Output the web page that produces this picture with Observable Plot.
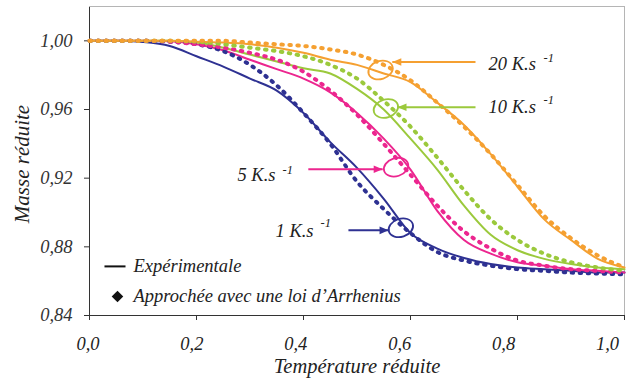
<!DOCTYPE html>
<html>
<head>
<meta charset="utf-8">
<script src="https://cdn.jsdelivr.net/npm/d3@7"></script>
<script src="https://cdn.jsdelivr.net/npm/@observablehq/plot@0.6"></script>
<style>
  html, body { margin: 0; padding: 0; background: #fff; }
</style>
</head>
<body>
<div id="chart"></div>
<script>
// ---- Data ----
const temperature = [0, 0.05, 0.10, 0.15, 0.20, 0.25, 0.30, 0.35, 0.40, 0.45, 0.50,
                     0.55, 0.60, 0.65, 0.70, 0.75, 0.80, 0.85, 0.90, 0.95, 1.00];

// Expérimentale (solid lines)
const exp1  = [1.000, 1.000, 0.9993, 0.997, 0.991, 0.985, 0.978, 0.971, 0.958, 0.941, 0.926,
               0.908, 0.888, 0.879, 0.8735, 0.870, 0.868, 0.867, 0.866, 0.865, 0.865];
const exp5  = [1.000, 1.000, 1.000, 0.9997, 0.998, 0.9945, 0.989, 0.9835, 0.978, 0.970, 0.958,
               0.943, 0.925, 0.901, 0.884, 0.876, 0.871, 0.869, 0.867, 0.866, 0.865];
const exp10 = [1.000, 1.000, 1.000, 1.000, 0.999, 0.996, 0.992, 0.988, 0.984, 0.981, 0.972,
               0.960, 0.943, 0.925, 0.904, 0.887, 0.878, 0.873, 0.870, 0.868, 0.867];
const exp20 = [1.000, 1.000, 1.000, 1.000, 0.9995, 0.999, 0.998, 0.996, 0.993, 0.989, 0.986,
               0.981, 0.976, 0.964, 0.951, 0.934, 0.915, 0.896, 0.884, 0.873, 0.868];

// Approchée avec une loi d'Arrhenius (dotted)
const arr1  = [1.000, 1.000, 1.000, 0.9995, 0.998, 0.994, 0.986, 0.974, 0.958, 0.940, 0.918,
               0.902, 0.888, 0.877, 0.872, 0.869, 0.867, 0.866, 0.865, 0.8645, 0.864];
const arr5  = [1.000, 1.000, 1.000, 0.9995, 0.998, 0.996, 0.993, 0.989, 0.982, 0.971, 0.957,
               0.940, 0.922, 0.904, 0.889, 0.879, 0.872, 0.869, 0.867, 0.866, 0.865];
const arr10 = [1.000, 1.000, 1.000, 1.000, 0.9995, 0.998, 0.996, 0.994, 0.991, 0.986, 0.978,
               0.965, 0.950, 0.932, 0.913, 0.896, 0.884, 0.876, 0.871, 0.868, 0.866];
const arr20 = [1.000, 1.000, 1.000, 1.000, 1.000, 1.000, 0.999, 0.998, 0.997, 0.995, 0.992,
               0.986, 0.977, 0.964, 0.950, 0.934, 0.916, 0.898, 0.885, 0.875, 0.868];

const xTicks = [0, 0.2, 0.4, 0.6, 0.8, 1.0];
const yTicks = [0.84, 0.88, 0.92, 0.96, 1.00];

// Annotations (heating-rate labels)
const rateText   = ["20 K.s", "10 K.s", "5 K.s", "1 K.s"];
const rateColor  = ["#f5a031", "#9bc93c", "#ec268f", "#2e3192"];
const labelX     = [0.746, 0.746, 0.2766, 0.3477];
const labelY     = [0.9866, 0.9615, 0.9217, 0.8890];
const supX       = [0.8486, 0.8486, 0.3607, 0.4320];
const supY       = [0.9900, 0.9655, 0.9247, 0.8939];
const arrowFromX = [0.7215, 0.7215, 0.409, 0.484];
const arrowToX   = [0.566, 0.5757, 0.548, 0.559];
const arrowY     = [0.9877, 0.9613, 0.9252, 0.8896];
const ringX      = [0.544, 0.554, 0.573, 0.582];
const ringY      = [0.9830, 0.9606, 0.9264, 0.8911];

// ---- Build tables ----
const series = [
  {rate: "1",  color: "#2e3192", exp: exp1,  arr: arr1},
  {rate: "5",  color: "#ec268f", exp: exp5,  arr: arr5},
  {rate: "10", color: "#9bc93c", exp: exp10, arr: arr10},
  {rate: "20", color: "#f5a031", exp: exp20, arr: arr20}
];
const rows = (vals) => temperature.map((t, i) => ({x: t, y: vals[i]}));
const ann = rateText.map((t, i) => ({
  text: t, color: rateColor[i], lx: labelX[i], ly: labelY[i], sx: supX[i], sy: supY[i],
  ax1: arrowFromX[i], ax2: arrowToX[i], ay: arrowY[i], ex: ringX[i], ey: ringY[i],
  dir: arrowToX[i] < arrowFromX[i] ? "left" : "right"
}));

// custom symbols
function ellipseSymbol(rx, ry, angleDeg) {
  const a = angleDeg * Math.PI / 180, c = Math.cos(a), s = Math.sin(a), k = 0.5523;
  const p = (x, y) => [x * c - y * s, x * s + y * c];
  return {
    draw(ctx) {
      ctx.moveTo(...p(rx, 0));
      ctx.bezierCurveTo(...p(rx, k * ry), ...p(k * rx, ry), ...p(0, ry));
      ctx.bezierCurveTo(...p(-k * rx, ry), ...p(-rx, k * ry), ...p(-rx, 0));
      ctx.bezierCurveTo(...p(-rx, -k * ry), ...p(-k * rx, -ry), ...p(0, -ry));
      ctx.bezierCurveTo(...p(k * rx, -ry), ...p(rx, -k * ry), ...p(rx, 0));
      ctx.closePath();
    }
  };
}
function headSymbol(sign) {
  return {
    draw(ctx) {
      ctx.moveTo(0, 0);
      ctx.lineTo(-sign * 9, -3.8);
      ctx.lineTo(-sign * 9, 3.8);
      ctx.closePath();
    }
  };
}

const FONT = "Liberation Serif";
const comma = (digits) => (d) => d.toFixed(digits).replace(".", ",");
const txt = {fill: "#222", fontFamily: FONT, fontStyle: "italic", fontSize: 18.5};

const marks = [];
// frame borders (top / right light gray)
marks.push(Plot.ruleY([1.02], {stroke: "#b5b5b5", strokeWidth: 1}));
marks.push(Plot.ruleX([1.0], {stroke: "#b5b5b5", strokeWidth: 1}));

for (const s of series) {
  marks.push(Plot.line(rows(s.exp), {x: "x", y: "y", stroke: s.color, strokeWidth: 2, curve: "monotone-x"}));
}
for (const s of series) {
  marks.push(Plot.line(rows(s.arr), {x: "x", y: "y", stroke: s.color, strokeWidth: 4,
    strokeDasharray: "1.5,6.5", strokeLinecap: "round", curve: "monotone-x"}));
}

// annotations
marks.push(Plot.link(ann, {x1: "ax1", x2: "ax2", y1: "ay", y2: "ay", stroke: d => d.color, strokeWidth: 2}));
marks.push(Plot.dot(ann.filter(d => d.dir === "left"), {x: "ax2", y: "ay", fill: d => d.color, stroke: "none", symbol: headSymbol(-1)}));
marks.push(Plot.dot(ann.filter(d => d.dir === "right"), {x: "ax2", y: "ay", fill: d => d.color, stroke: "none", symbol: headSymbol(1)}));
marks.push(Plot.dot(ann, {x: "ex", y: "ey", stroke: d => d.color, fill: "none", strokeWidth: 1.8, symbol: ellipseSymbol(12.5, 9, -18)}));
marks.push(Plot.text(ann, {x: "lx", y: "ly", text: "text", textAnchor: "start", ...txt}));
marks.push(Plot.text(ann, {x: "sx", y: "sy", text: () => "-1", textAnchor: "start", ...txt, fontSize: 12.5}));

// legend (inside the plot)
const legendLine = [{x1: 0.028, x2: 0.0673, y: 0.8686}];
marks.push(Plot.link(legendLine, {x1: "x1", x2: "x2", y1: "y", y2: "y", stroke: "#111", strokeWidth: 2}));
marks.push(Plot.dot([{x: 0.0523, y: 0.8511}], {x: "x", y: "y", symbol: "diamond2", r: 5.2, fill: "#111", stroke: "none"}));
marks.push(Plot.text([{x: 0.0822, y: 0.8686, t: "Expérimentale"}, {x: 0.0822, y: 0.8511, t: "Approchée avec une loi d\u2019Arrhenius"}],
  {x: "x", y: "y", text: "t", textAnchor: "start", ...txt}));

// x tick labels (slightly drifting left, as in the reference)
for (const t of xTicks) {
  marks.push(Plot.text([t], {x: d => d, frameAnchor: "bottom", lineAnchor: "middle", dy: 29,
    dx: -1.5 - 15.5 * t, text: comma(1), ...txt}));
}

// axis titles
marks.push(Plot.text(["Masse réduite"], {frameAnchor: "left", textAnchor: "middle", lineAnchor: "middle",
  dx: -67, dy: 3, rotate: -90, text: d => d, ...txt, fontSize: 21}));
marks.push(Plot.text(["Température réduite"], {frameAnchor: "bottom", textAnchor: "middle", lineAnchor: "middle",
  dy: 51, text: d => d, ...txt, fontSize: 20.5}));

const chart = Plot.plot({
  width: 630,
  height: 379,
  marginTop: 6,
  marginRight: 6,
  marginBottom: 64,
  marginLeft: 89,
  style: {fontFamily: FONT, fontStyle: "italic", fontSize: "18.5px", color: "#333", background: "#fff"},
  x: {domain: [0, 1], ticks: xTicks, tickFormat: () => "", tickSize: 5, label: null, line: true},
  y: {domain: [0.84, 1.02], ticks: yTicks, tickFormat: comma(2), tickSize: 5, tickPadding: 12, label: null, line: true},
  marks
});
document.getElementById("chart").appendChild(chart);
</script>
</body>
</html>
